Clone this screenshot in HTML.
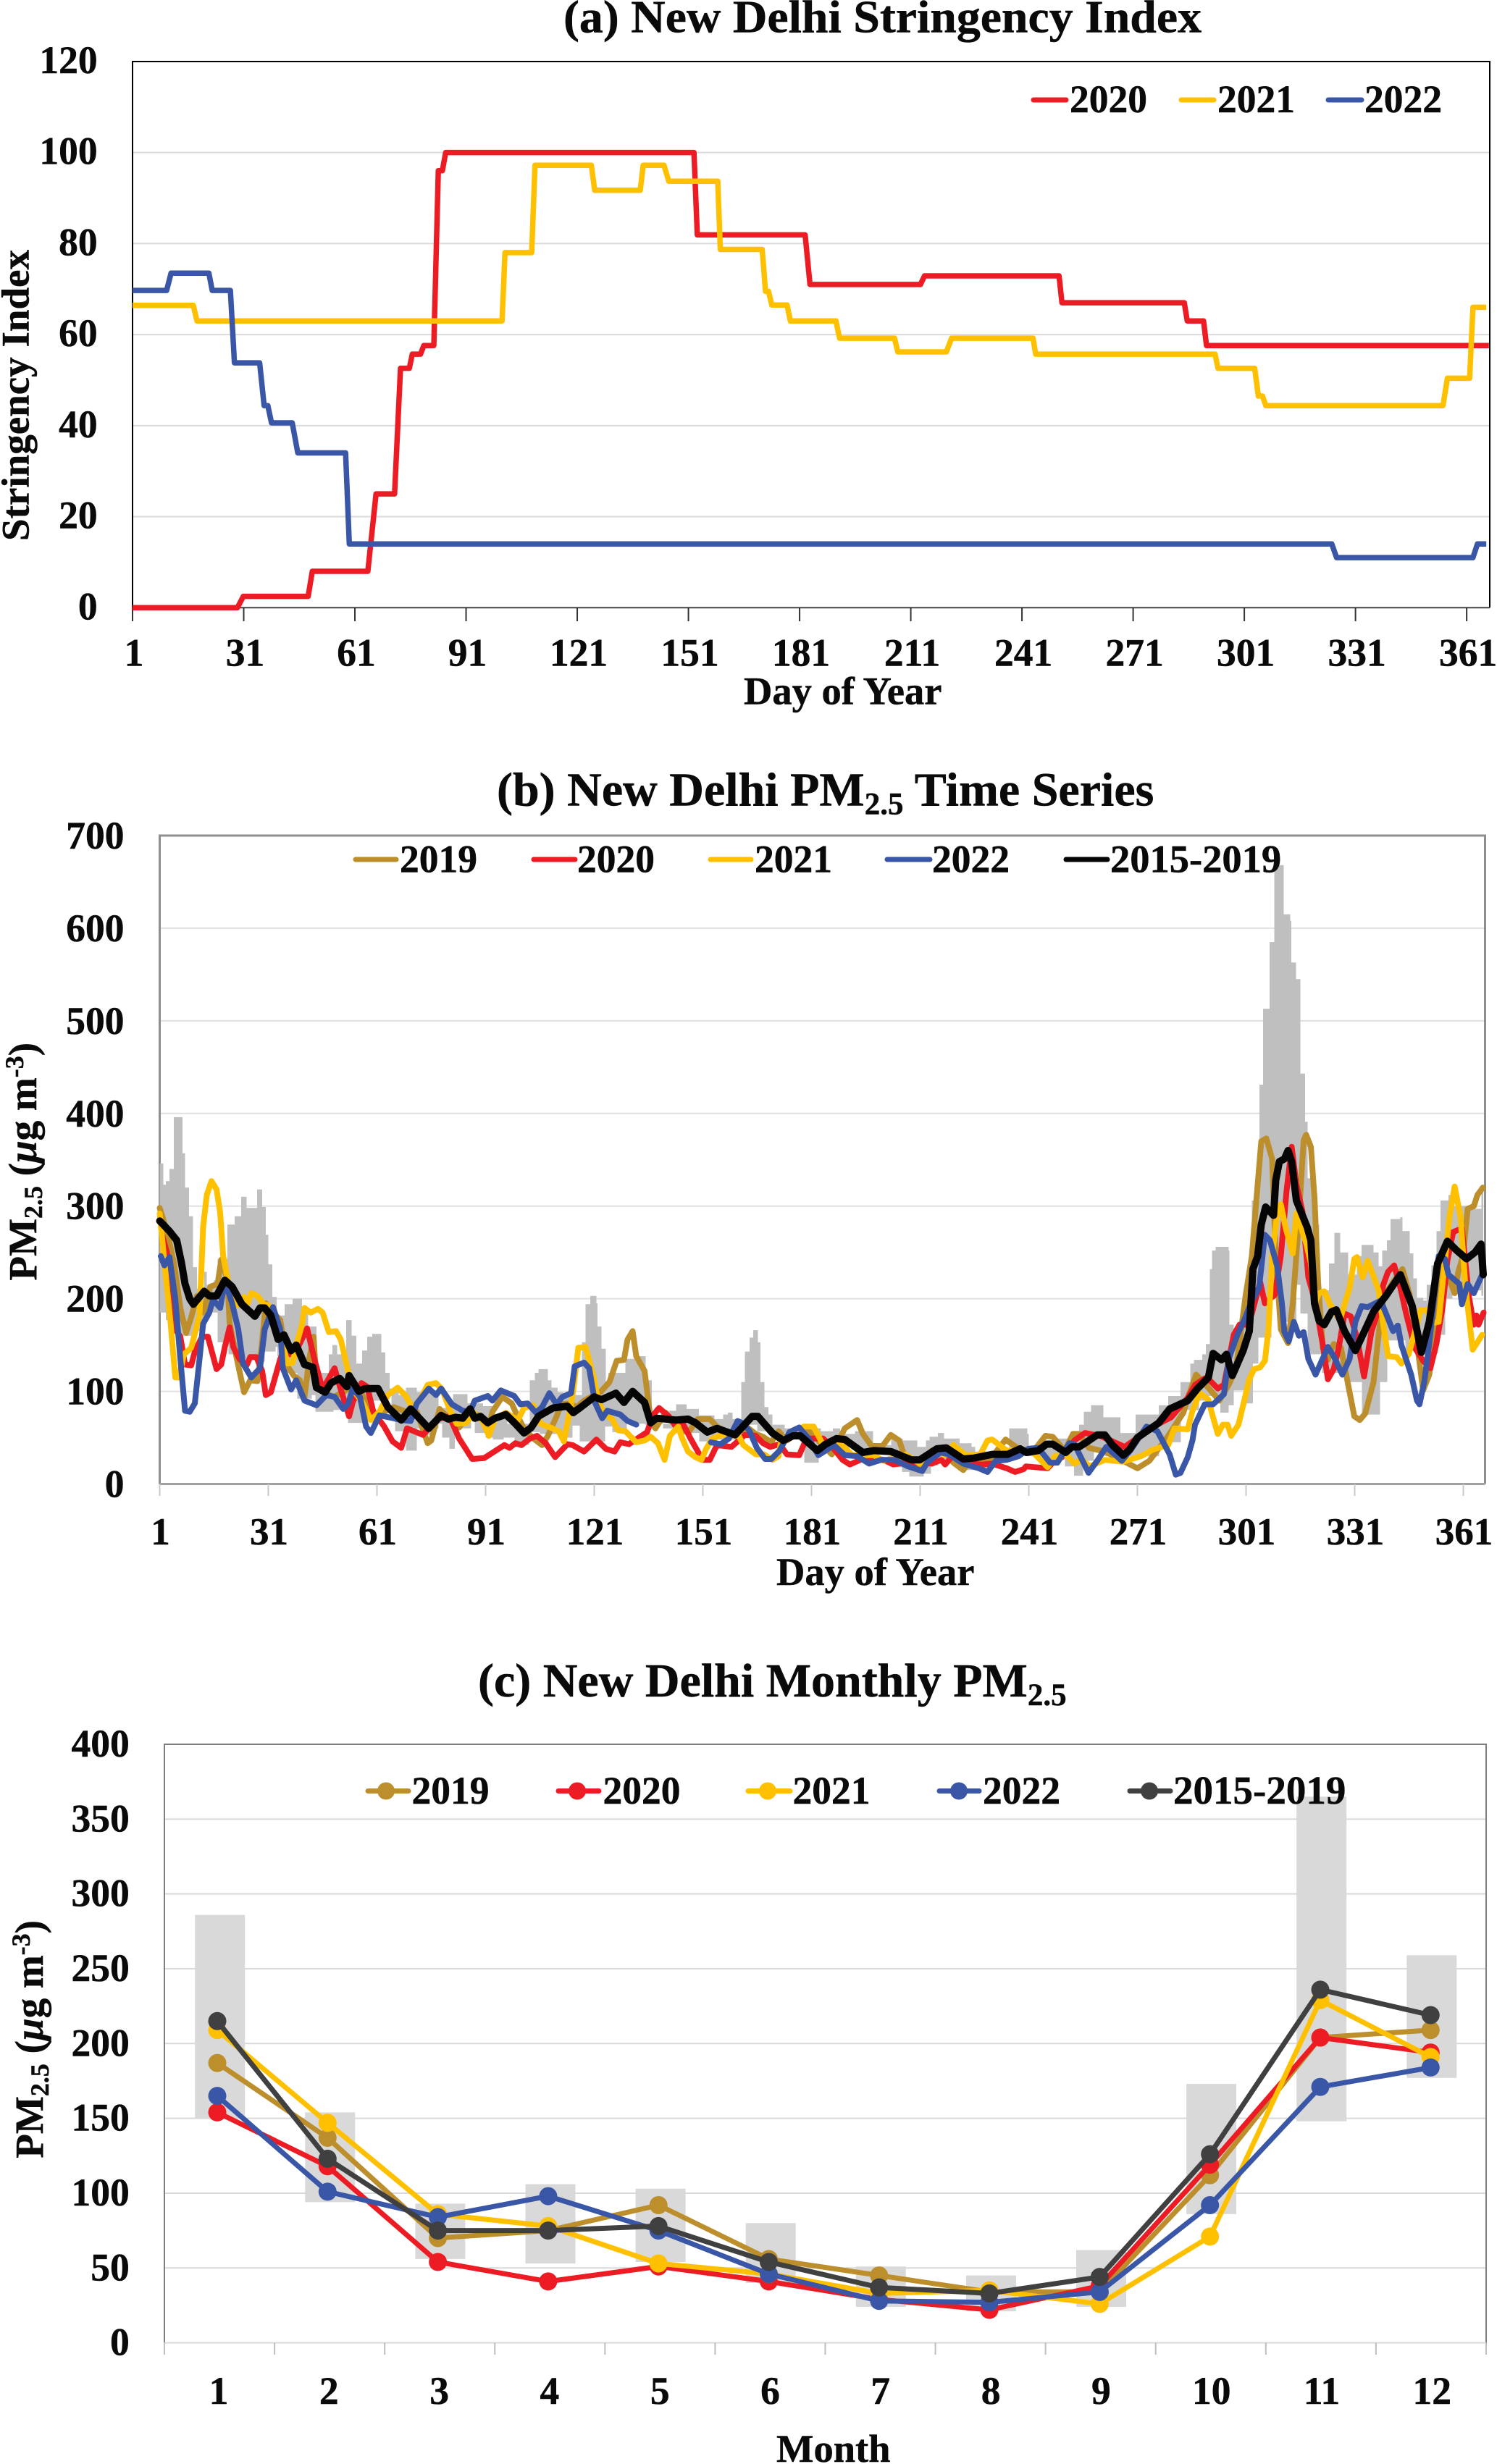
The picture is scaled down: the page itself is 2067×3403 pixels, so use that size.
<!DOCTYPE html>
<html lang="en">
<head>
<meta charset="utf-8">
<title>New Delhi Stringency Index and PM2.5</title>
<style>
html,body{margin:0;padding:0;background:#fff;}
svg{display:block;}
text{font-family:"Liberation Serif",serif;font-weight:bold;fill:#0a0a0a;stroke:#0a0a0a;stroke-width:.5;}
</style>
</head>
<body>
<svg id="figure" xmlns="http://www.w3.org/2000/svg" width="2067" height="3403" viewBox="0 0 2067 3403">
<rect x="0" y="0" width="2067" height="3403" fill="#ffffff"/>

<g id="panel-a"></g>
<g id="panel-b"></g>
<g id="panel-c"></g>

<text x="778" y="44.5" font-size="64" textLength="881" lengthAdjust="spacingAndGlyphs">(a) New Delhi Stringency Index</text>
<text x="1027" y="972.5" font-size="54.5">Day of Year</text>
<text transform="translate(39.6,747) rotate(-90)" font-size="54" textLength="402" lengthAdjust="spacingAndGlyphs">Stringency Index</text>

<text x="686" y="1112.5" font-size="66">(b) New Delhi PM<tspan font-size="43" dy="12">2.5</tspan><tspan dy="-12"> Time Series</tspan></text>
<text x="1072" y="2189" font-size="54.5">Day of Year</text>
<text transform="translate(50,1768.5) rotate(-90)" font-size="55">PM<tspan font-size="36" dy="8">2.5</tspan><tspan dy="-8"> (</tspan><tspan font-style="italic">μ</tspan>g m<tspan font-size="36" dy="-18">-3</tspan><tspan dy="18">)</tspan></text>

<text x="660" y="2343" font-size="66">(c) New Delhi Monthly PM<tspan font-size="43" dy="12">2.5</tspan></text>
<text x="1072" y="3400" font-size="54.5">Month</text>
<text transform="translate(59,2980.6) rotate(-90)" font-size="55">PM<tspan font-size="36" dy="8">2.5</tspan><tspan dy="-8"> (</tspan><tspan font-style="italic">μ</tspan>g m<tspan font-size="36" dy="-18">-3</tspan><tspan dy="18">)</tspan></text>
</svg>

<script>
/* ---------- Panel (a) data ---------- */
const dayTicksA = [1,31,61,91,121,151,181,211,241,271,301,331,361];
const stringencyTicks = [0,20,40,60,80,100,120];
const stringencyDays2020 = [1,29.3,30.9,48.4,49.5,64.5,66.7,71.7,73.3,75.7,76.5,78.7,79.6,82.3,83.5,84.6,85.5,152.5,153.4,182.5,183.8,213.6,214.7,251,251.8,284.8,285.6,290,290.8,367];
const stringency2020 = [0,0,2.5,2.5,8,8,25,25,52.6,52.6,55.7,55.7,57.6,57.6,96,96,100,100,81.9,81.9,71,71,72.9,72.9,67,67,63,63,57.6,57.6];
const stringencyDays2021 = [1,17.4,18.4,100.7,101.5,108.7,109.6,124.8,125.7,138,138.8,144.4,145.7,158.9,159.6,170.9,171.8,172.6,173.5,177.6,178.5,190.8,191.8,206.6,207.5,220.6,222,244,244.7,293.1,293.9,303.8,304.8,305.9,306.8,354.6,355.8,361.8,362.7,366.3];
const stringency2021 = [66.4,66.4,63,63,78,78,97.2,97.2,91.7,91.7,97.2,97.2,93.7,93.7,78.7,78.7,69.5,69.5,66.5,66.5,63,63,59.2,59.2,56.2,56.2,59.2,59.2,55.7,55.7,52.6,52.6,46.5,46.5,44.4,44.4,50.4,50.4,66,66];
const stringencyDays2022 = [1,10.2,11.4,21.6,22.5,27.4,28.5,35.3,36.5,37.5,38.5,44.1,45.6,58.5,59.5,324.6,325.9,362.7,363.9,366.3];
const stringency2022 = [69.7,69.7,73.5,73.5,69.7,69.7,53.8,53.8,44.4,44.4,40.6,40.6,34,34,14,14,11,11,14,14];

/* ---------- Panel (b) data ---------- */
const dayTicksB = [1,31,61,91,121,151,181,211,241,271,301,331,361];
const pmTicks = [0,100,200,300,400,500,600,700];
const bandUpperDays = [1,2,2.7,3.7,4.9,7.3,8,9.1,10.2,11.3,13.3,14,16,17,19.7,21.7,23.5,25,27.9,29.3,30.3,31,32.1,33.3,35.5,37.7,40.3,42,44.3,47.7,48.7,50,52.5,54,55.3,56.9,58.3,59.7,62.2,63.3,64.5,67,69,72,75,78,82,86,90.3,93,97,103.2,104.6,105.6,107.5,108.2,109.2,110.9,112.5,115,117.6,118.6,119.9,121.6,121.9,123,124.2,124.9,129.6,132.9,135.2,136.9,141.6,143.6,146.5,149.9,154.2,156.6,157.9,159.2,161.6,162.6,163.9,164.9,166.2,166.9,168,169.1,170.2,173.6,183.6,186.9,188.9,193,198,203,206.2,210.2,212.6,213.6,215.9,217.6,221.9,225.2,226.2,235.6,239.2,240.6,241,247,248.9,253,254.9,256.2,258.2,261.6,266.3,268.8,270.5,276.9,279.5,282.9,285.6,286.6,288.9,289.9,291,291.6,292.6,296.2,296.4,297.6,300,302.6,304.7,305.7,307.5,308.8,311.4,313.2,313.5,314.8,316,317.3,318,320,321.2,323.9,325.4,327,329.2,331.6,332.9,336.2,337.6,338.6,339.9,340.9,343.6,344.2,346.2,347.2,348.2,349.9,350.9,352.2,353.6,354.7,356.9,358,363.2,366];
const bandUpper = [346,323,327,340,396,357,320,289,234,211,229,215,220,243,280,289,310,298,318,299,269,237,202,182,194,200,191,170,120,140,150,140,177,160,130,144,159,162,142,120,103,96,104,99,100,82,97,87,84,70,65,112,120,124,124,112,104,99,95,96,153,194,203,195,170,146,109,120,135,138,112,65,79,86,81,74,70,75,77,70,110,143,158,166,153,110,83,75,64,60,57,60,54,57,42,49,47,40,47,51,55,49,44,40,35,60,60,54,40,44,49,55,64,78,85,72,55,55,75,85,95,110,130,134,140,151,232,252,256,252,172,161,170,306,431,513,585,668,615,608,563,545,443,391,330,280,209,238,271,250,226,246,258,250,235,252,263,286,288,273,249,222,201,198,215,236,273,306,312,300,297,317];
const bandLowerDays = [1,2.7,6,10,13,14,17,20,24,28,30,33,33.5,36,39,43,44,49,53,57,60,62,65,66,69,72,75,77,78,79,81,82.5,87,88,91,93,96,99,103,106,113,115,117,122,124,126,130,135,137,140,143,150,155,161,166,170,175,179,183,188,193,198,203,204,206,208,212,214,216,222,230,235,240,245,251,253.5,256,259,262,270,277,283,288,290,293.9,296.2,297.6,300.6,302.9,304.4,308,310,314.9,316,318,322,329,333,338,340,345,351,354,356,358,366];
const bandLower = [185,177,160,165,175,185,153,140,135,132,143,148,138,120,92,96,78,80,66,80,90,95,72,57,36,60,53,60,65,50,38,60,80,55,50,48,50,42,56,54,50,63,46,46,62,56,65,64,66,60,55,46,48,64,57,55,50,23,45,40,38,35,30,18,13,8,11,20,25,15,25,35,30,28,19,9,25,38,30,30,45,80,90,95,77,85,101,87,130,158,203,175,215,184,140,120,110,75,110,155,144,141,161,200,209,203,206];

const pmDays2019 = [1,3,5,6.7,8.3,9.7,11.3,13,15,17,18,19.7,20.3,22.3,24.3,26,28,29,30.3,32.3,34.3,36.3,38,39.7,41,42.3,43.5,44.3,46.3,49,51.7,54.3,57,59.7,63,65.7,69,72,75,76,78.3,81,83.7,86.7,89.7,91.6,92.9,95.6,98.2,99.6,101.6,104.2,106.6,108.2,110.6,111.9,114.2,116.2,118.2,122.9,125.2,127.2,129.2,130.2,131.6,132.6,134.9,136.6,137.9,140.7,143,146.9,149.6,152.9,154.9,158.2,163.6,165.6,167.6,169.9,171.9,174.2,176.9,178.9,182.9,186.6,190.2,193.6,195.2,197.6,200.6,202.9,205.2,206.9,208.9,211.9,214.2,217.6,220.2,222.9,224.9,230.2,234.6,238.2,242.2,245.6,247.6,250.9,253.2,254.9,257.6,262,267,271,274.3,279.5,283.7,284.9,287.2,289.9,293.6,296.2,298.2,300.9,302.6,303.9,305.2,306.6,308.2,309.2,310.6,312.6,313.9,315.2,316.9,317.6,318.9,319.9,320.9,322.2,323.6,325.2,327.2,328.9,330.9,332.4,333.9,336.2,337.6,338.9,341.6,344.2,346.2,348.2,349.9,351.6,352.9,355.6,356.9,358.6,359.6,360.9,362.2,363.9,364.9,366.4];
const pm2019 = [298,273,237,190,163,180,203,185,213,216,242,221,174,135,99,112,111,143,195,185,177,127,117,112,94,135,159,109,99,94,99,107,96,75,78,83,78,78,44,47,81,70,61,78,73,57,78,94,87,75,60,49,42,52,73,86,87,83,90,100,110,133,134,156,165,138,122,68,60,77,65,55,70,70,62,54,60,54,51,45,57,47,54,62,47,32,60,69,54,41,41,53,47,28,21,21,36,35,23,15,26,26,48,38,35,52,51,36,54,54,39,35,25,17,25,52,77,93,118,107,90,107,124,204,246,309,370,373,351,246,167,152,195,263,371,377,364,309,218,147,134,151,147,113,73,69,76,110,161,201,218,232,204,152,101,118,155,252,223,206,229,246,297,300,312,320];

const pmDays2020 = [1.7,3,5,6.7,8,9.7,10.7,12.7,14.3,16.7,18,19,20.3,21.3,23,25,26,27.7,29.3,30.3,31.7,33,34.3,35.7,37,39,41.7,43.7,46,49.3,51,53.3,54.3,56.7,58.3,60,63,65.3,67.7,69.3,73.7,77.7,81,83.7,87.3,90.6,92.2,96.2,97.6,99.2,100.9,103.2,105.2,107.6,110.2,113.6,115,118.2,121.6,124.2,126.6,128.2,130.6,132.9,135.6,137.2,138.9,141.6,143.9,145.5,147.6,150.9,152.9,154.9,158.9,160.9,162.6,165.6,167.6,169.6,172.2,174.2,177.6,179.6,184.2,186.9,189.6,191.6,196.2,200.9,203.6,206.9,209,214.2,216.9,217.9,219.9,224.2,228.2,230.9,234.9,237.2,239.6,240.2,246.2,247.6,250.2,253.6,256.5,260.7,267.5,271.8,276.9,280.3,284.9,286.9,289.6,291.2,293.2,294.9,297.6,299.2,301,302.6,304.9,306.2,308.9,310.6,312.2,313.6,314.9,316.6,318.2,320.2,322.2,323.6,325.2,326.6,328.2,329.9,331.6,333.6,335.6,337.6,338.9,340.2,341.9,343.6,345.2,347.6,349.9,351.9,353.6,355.2,356.6,358.2,360.6,362.6,363.9,364.6,365.2,366.6];
const pm2020 = [268,250,169,159,129,128,143,159,159,124,129,148,169,148,135,128,137,137,122,96,99,117,135,148,140,146,168,135,102,125,102,73,88,109,105,78,62,46,39,60,53,70,73,49,27,28,32,42,39,44,42,49,52,44,29,43,42,35,48,38,35,45,43,49,56,74,82,73,60,65,49,26,26,42,40,47,53,52,44,40,43,32,31,49,49,39,26,21,29,26,21,23,23,22,26,21,30,22,21,22,17,13,16,19,17,23,29,47,55,52,40,52,65,72,93,107,114,111,103,107,161,172,172,184,218,195,204,246,317,364,323,294,223,195,150,113,124,147,184,181,158,116,164,189,215,229,236,212,184,147,133,125,152,189,241,272,276,201,172,182,172,185];

const pmDays2021 = [1,2.3,4,5.3,6.3,7.7,9.7,12,13,14,15.3,16.7,17.7,18.5,20,22.3,24.3,25.3,26.3,28,29.7,31,34.3,36.3,37.7,39,40.3,41,42.7,44.7,46,47.7,49.7,51,53.3,54.3,57,59.3,61.7,64,66.7,69,71,73.3,75,77.3,79,81.3,83,85.7,87.7,90.2,91.9,93.6,96.6,99.9,101.6,104.2,106.2,108.9,111.2,112.6,114.2,115.2,116.6,118.6,120.9,122.2,123.9,125.9,127.6,129.6,132.6,134.9,136.6,138.6,140.4,141.9,144.2,145.2,146.9,148.9,150.6,151.9,153.6,156.2,160.9,162.2,165.6,167.9,170.2,171.9,172.6,176.9,178.9,181.6,184.2,187.6,189.6,192.2,198.2,200.9,206.9,210.9,215.2,217.6,220.2,223.6,227.6,229.6,230.9,234.9,238.2,242.2,246.2,248.2,251.2,253.6,255.6,257.9,262,267,272,275.2,279.5,281.2,284.9,286.2,288.2,290.6,291.6,293.2,294.6,295.9,296.9,298.9,301.9,303.2,304.9,306.2,307.2,308.2,309.6,310.6,311.9,313.9,314.9,317.6,318.9,319.9,321.2,322.6,324.2,326.9,329.6,330.9,331.6,333.2,334.6,337.6,338.9,340.2,342.6,343.9,345.9,348.2,349.2,350.9,352.6,354.2,355.6,357.2,358.6,360.2,361.6,363.6,366.2];
const pm2021 = [292,240,174,115,115,140,147,182,278,312,327,318,293,247,216,193,202,195,206,203,194,193,161,130,131,154,172,190,185,189,185,164,165,156,117,102,88,69,78,96,104,95,81,94,107,109,102,78,65,66,77,68,52,70,77,69,82,85,65,61,57,46,78,101,147,148,114,88,75,70,58,57,45,47,51,44,26,52,62,50,35,29,26,38,49,53,52,42,32,32,26,30,47,57,62,62,42,43,42,31,31,25,32,22,38,31,42,31,32,47,48,36,36,34,18,30,32,22,26,19,26,24,30,37,42,60,59,79,98,91,76,54,64,64,52,64,113,124,126,133,167,246,292,302,277,249,292,260,238,195,206,208,194,177,212,243,245,223,241,209,172,138,137,130,140,172,188,188,174,175,229,289,321,289,212,145,161];

const pmDays2022 = [1.3,2.3,3.7,5.3,6.7,8,9.3,10.7,12,13,14.7,15.7,17.7,19,21,22.7,24,26.3,28.7,30,32.3,34.3,35,37.3,38.7,41,44.3,47,49.3,51.7,53,54.3,56.3,58,59.3,61.7,64.3,67.7,70.3,72,75.3,77.3,78.7,81.7,84.7,86.7,88,91.6,92.9,95.2,98.9,100.6,102.6,104.9,106.6,108.6,110.6,112.2,114.6,115.6,118.2,119.6,121.2,123.2,124.6,128.2,130.2,132.6,null,153.2,155.9,158.2,160.6,162.2,163.9,165.9,168.2,169.9,172.2,174.9,177.6,180.2,182.9,187.2,190.2,193.6,196.9,200.2,203.9,207.6,211.6,212.9,216.6,218.9,222.9,227.2,229.6,231.9,234.9,238.2,240.9,243.6,246.9,248.9,252.2,253.6,257.5,259.9,262.4,266.7,269.2,273.5,276.5,279.9,281.6,282.9,284.9,286.2,286.9,289.6,291.9,294.9,296.2,298.6,300.6,302.6,304.6,306.2,307.6,309.6,310.9,311.6,312.8,314.2,315.6,316.9,318.2,320.2,323.6,325.2,327.6,329.6,331.2,332.9,334.6,338.2,341.6,342.9,343.9,346.6,348.2,348.9,350.2,351.6,354.2,355.9,356.9,359.9,360.6,362.2,363.9,366.2];
const pm2022 = [246,236,245,200,135,79,78,87,135,173,185,199,190,219,195,167,130,115,125,167,191,167,125,102,112,90,85,96,94,81,86,103,94,62,55,74,72,69,68,87,103,96,103,86,79,78,90,95,90,101,95,86,87,77,83,98,86,94,98,127,131,125,88,71,79,75,68,64,null,45,43,49,68,65,57,39,27,27,36,56,61,49,31,42,31,30,22,26,26,19,14,23,34,32,22,17,13,25,26,30,38,39,23,23,44,43,12,25,40,25,37,62,57,32,10,12,29,47,64,86,86,97,135,161,178,198,212,269,263,235,195,164,154,175,160,164,135,118,148,138,118,135,175,192,191,198,165,171,150,118,90,86,110,152,246,243,226,216,194,216,206,226];

const pmDays2015 = [1,3.7,5.7,7,8,9.3,10.3,13.3,14.7,16.7,19,21,23.7,27.3,28.7,30,31.7,33.7,35.3,37.3,38.7,41,43.3,44.3,46.7,48.3,50.7,52.7,53.3,56,57.7,61.3,64,67.7,70.3,75.3,78.7,80.7,82.7,84.7,86.7,88,89.6,91.6,93.6,96.6,99,101.6,103.6,105.6,109.6,113.6,115.2,117,121,123,127,129.2,131.6,134.9,136.6,138.2,143.6,146.9,149,152.2,154.9,159.9,164.6,166.2,170.2,173.2,175.9,177.9,182.6,184.9,187.9,190.2,195.2,198.2,202.9,204.9,208.6,210.9,215.6,218.2,222.9,225.9,230.9,235.2,238.6,240.3,243.6,245.9,247.6,251.2,252.9,254.9,256.9,259.9,262,264.1,267.1,268.8,271,276.9,279.9,284.9,287.6,290.6,291.9,294.2,295.6,297.2,300.2,301.9,302.9,304.2,305.2,306.4,308.6,309.2,310.2,311.6,312.6,313.6,314.9,317.9,318.9,319.9,321.2,322.6,324.6,325.9,328.2,331.2,334.2,336.2,339.6,343.6,346.9,349.4,351.6,353.9,356.6,359.2,361.9,364.2,365.9,366.5];
const pm2015 = [284,273,263,239,216,200,194,208,203,203,220,213,194,181,190,190,182,156,161,144,150,129,126,104,99,109,114,105,117,100,103,103,83,69,81,60,74,70,72,71,81,71,73,66,71,75,66,55,61,73,82,84,77,82,94,91,98,88,100,88,66,71,69,70,66,56,60,53,73,73,55,47,52,52,36,43,49,48,34,36,35,32,26,26,38,39,27,28,32,32,38,34,36,43,43,34,40,40,45,53,53,42,31,37,50,66,81,90,103,115,141,134,140,117,144,165,232,246,280,299,290,328,348,351,360,348,306,277,263,195,176,172,186,188,165,144,169,186,203,226,192,142,175,238,262,252,243,250,259,226];

/* ---------- Panel (c) data ---------- */
const months = [1,2,3,4,5,6,7,8,9,10,11,12];
const monthlyTicks = [0,50,100,150,200,250,300,350,400];
const monthlyBandLow = [150,94,56,53,54,40,24,21,24,86,148,177];
const monthlyBandHigh = [286,154,93,106,103,80,51,45,62,173,365,259];
const monthly2019 = [187,137,70,75,92,56,45,34,34,112,204,209];
const monthly2020 = [154,118,54,41,51,41,29,22,38,119,204,194];
const monthly2021 = [209,147,86,78,53,46,33,35,26,71,229,191];
const monthly2022 = [165,101,84,98,75,46,28,27,34,92,171,184];
const monthly2015 = [215,123,75,75,78,54,37,33,44,126,236,219];

/* ---------- Colours ---------- */
const colorBrown = '#BC8F2C';
const colorRed = '#ED1C24';
const colorYellow = '#FFC000';
const colorBlue = '#3A56A6';
const colorBlack = '#050505';
const colorDark = '#404040';

/* ---------- Helpers ---------- */
const NS = 'http://www.w3.org/2000/svg';
function make(tag, attrs, parent) {
  const node = document.createElementNS(NS, tag);
  for (const k in attrs) node.setAttribute(k, attrs[k]);
  parent.appendChild(node);
  return node;
}

function seriesPath(days, vals, xFn, yFn) {
  let d = '';
  let pen = false;
  for (let i = 0; i < days.length; i++) {
    if (days[i] === null || vals[i] === null) { pen = false; continue; }
    d += (pen ? 'L' : 'M') + xFn(days[i]).toFixed(1) + ' ' + yFn(vals[i]).toFixed(1);
    pen = true;
  }
  return d;
}

function drawFrame(parent, box, gridVals, yFn, gridColor, borderColor, borderWidth, bottomColor) {
  gridVals.forEach(function (v) {
    if (v === gridVals[0] || v === gridVals[gridVals.length - 1]) return;
    const g = make('line', {x1: box.l, x2: box.r, y1: yFn(v), y2: yFn(v), stroke: gridColor, 'stroke-width': 2}, parent);
    
    
  });
  const frame = make('path', {d: 'M' + box.l + ' ' + box.b + 'V' + box.t + 'H' + box.r + 'V' + box.b, fill: 'none', stroke: borderColor, 'stroke-width': borderWidth}, parent);
  
  
  const base = make('line', {x1: box.l, x2: box.r, y1: box.b, y2: box.b, stroke: bottomColor, 'stroke-width': borderWidth}, parent);
  
  
}

function drawYLabels(parent, ticks, yFn, rightX, shift) {
  ticks.forEach(function (v) {
    const t = make('text', {x: rightX, y: yFn(v) + shift, 'font-size': 53.5, 'text-anchor': 'end'}, parent);
    t.textContent = String(v);
    
    
  });
}

function drawLegendEntry(parent, x1, x2, lineY, textX, baseY, label, color, size, markerX) {
  const l = make('line', {x1: x1, x2: x2, y1: lineY, y2: lineY, stroke: color, 'stroke-width': 7, 'stroke-linecap': 'round'}, parent);
  
  
  if (markerX) {
    const c = make('circle', {cx: markerX, cy: lineY, r: 12, fill: color}, parent);
    
    
  }
  const t = make('text', {x: textX, y: baseY, 'font-size': size}, parent);
  t.textContent = label;
  
  
}

/* ---------- Panel (a) ---------- */
(function () {
  const p = document.getElementById('panel-a');
  const box = {l: 183, r: 2057, t: 85, b: 839.3};
  const x = function (d) { return 183 + (d - 1) * 5.117; };
  const y = function (v) { return 839.3 - v * 6.287; };
  drawFrame(p, box, stringencyTicks, y, '#DADADA', '#000000', 2, '#444444');
  dayTicksA.forEach(function (d) {
    const t = make('line', {x1: x(d), x2: x(d), y1: 839.3, y2: 858, stroke: '#333333', 'stroke-width': 2}, p);
    
    
    const lab = make('text', {x: x(d) + 2, y: 919.5, 'font-size': 53.5, 'text-anchor': 'middle'}, p);
    lab.textContent = String(d);
    
    
  });
  drawYLabels(p, stringencyTicks, y, 134.6, 16);
  const list = [
    ['2020', stringencyDays2020, stringency2020, colorRed],
    ['2021', stringencyDays2021, stringency2021, colorYellow],
    ['2022', stringencyDays2022, stringency2022, colorBlue]
  ];
  list.forEach(function (s) {
    const line = make('path', {d: seriesPath(s[1], s[2], x, y), fill: 'none', stroke: s[3], 'stroke-width': 7.5, 'stroke-linejoin': 'round', 'stroke-linecap': 'butt'}, p);
    
    
  });
  drawLegendEntry(p, 1427, 1472, 138, 1477, 155, '2020', colorRed, 53.5);
  drawLegendEntry(p, 1631, 1676, 138, 1681, 155, '2021', colorYellow, 53.5);
  drawLegendEntry(p, 1834, 1880, 138, 1884, 155, '2022', colorBlue, 53.5);
})();

/* ---------- Panel (b) ---------- */
(function () {
  const p = document.getElementById('panel-b');
  const box = {l: 220.5, r: 2050.5, t: 1154, b: 2049.5};
  const x = function (d) { return 220.5 + (d - 1) * 5; };
  const y = function (v) { return 2049.5 - v * 1.2793; };
  drawFrame(p, box, pmTicks, y, '#E0E0E0', '#8E8E8E', 3, '#A0A0A0');
  dayTicksB.forEach(function (d) {
    const t = make('line', {x1: x(d), x2: x(d), y1: 2049.5, y2: 2066, stroke: '#C8C8C8', 'stroke-width': 2}, p);
    
    
    const lab = make('text', {x: x(d) + 1, y: 2133, 'font-size': 53, 'text-anchor': 'middle'}, p);
    lab.textContent = String(d);
    
    
  });
  drawYLabels(p, pmTicks, y, 171.5, 18);

  let bandD = 'M' + x(bandUpperDays[0]).toFixed(1) + ' ' + y(bandUpper[0]).toFixed(1);
  for (let i = 1; i < bandUpperDays.length; i++) {
    bandD += 'H' + x(bandUpperDays[i]).toFixed(1) + 'V' + y(bandUpper[i]).toFixed(1);
  }
  bandD += 'H' + x(366.5).toFixed(1);
  const last = bandLowerDays.length - 1;
  bandD += 'V' + y(bandLower[last]).toFixed(1);
  for (let j = last; j > 0; j--) {
    bandD += 'H' + x(bandLowerDays[j]).toFixed(1) + 'V' + y(bandLower[j - 1]).toFixed(1);
  }
  bandD += 'H' + x(bandLowerDays[0]).toFixed(1) + 'Z';
  const band = make('path', {d: bandD, fill: '#BFBFBF', stroke: 'none'}, p);
  
  

  const list = [
    ['2019', pmDays2019, pm2019, colorBrown, 8],
    ['2020', pmDays2020, pm2020, colorRed, 8],
    ['2021', pmDays2021, pm2021, colorYellow, 8],
    ['2022', pmDays2022, pm2022, colorBlue, 8],
    ['2015-2019', pmDays2015, pm2015, colorBlack, 10]
  ];
  list.forEach(function (s) {
    const line = make('path', {d: seriesPath(s[1], s[2], x, y), fill: 'none', stroke: s[3], 'stroke-width': s[4], 'stroke-linejoin': 'round', 'stroke-linecap': 'round'}, p);
    
    
  });
  drawLegendEntry(p, 491, 547, 1187, 552, 1204.5, '2019', colorBrown, 53.5);
  drawLegendEntry(p, 737, 794, 1187, 797, 1204.5, '2020', colorRed, 53.5);
  drawLegendEntry(p, 981, 1037, 1187, 1042, 1204.5, '2021', colorYellow, 53.5);
  drawLegendEntry(p, 1225, 1284, 1187, 1287, 1204.5, '2022', colorBlue, 53.5);
  drawLegendEntry(p, 1472, 1529, 1187, 1533, 1204.5, '2015-2019', colorBlack, 54.5);
})();

/* ---------- Panel (c) ---------- */
(function () {
  const p = document.getElementById('panel-c');
  const box = {l: 227, r: 2052, t: 2409, b: 3235.6};
  const xPoint = function (m) { return 300 + (m - 1) * 152.3; };
  const xBar = function (m) { return 303.7 + (m - 1) * 152.1; };
  const y = function (v) { return 3235.6 - v * 2.0665; };
  drawFrame(p, box, monthlyTicks, y, '#D9D9D9', '#7F7F7F', 2, '#D9D9D9');
  for (let k = 0; k <= months.length; k++) {
    const tx = 227 + k * 152.08;
    const t = make('line', {x1: tx, x2: tx, y1: 3235.6, y2: 3252, stroke: '#BFBFBF', 'stroke-width': 2}, p);
    
    
  }
  months.forEach(function (m, i) {
    const bar = make('rect', {x: xBar(m) - 34.5, width: 69, y: y(monthlyBandHigh[i]), height: y(monthlyBandLow[i]) - y(monthlyBandHigh[i]), fill: '#D9D9D9'}, p);
    
    
    const lab = make('text', {x: xPoint(m) + 2, y: 3320, 'font-size': 53.5, 'text-anchor': 'middle'}, p);
    lab.textContent = String(m);
    
    
  });
  drawYLabels(p, monthlyTicks, y, 178.8, 17);
  const list = [
    ['2019', monthly2019, colorBrown],
    ['2020', monthly2020, colorRed],
    ['2021', monthly2021, colorYellow],
    ['2022', monthly2022, colorBlue],
    ['2015-2019', monthly2015, colorDark]
  ];
  list.forEach(function (s) {
    const line = make('path', {d: seriesPath(months, s[1], xPoint, y), fill: 'none', stroke: s[2], 'stroke-width': 7, 'stroke-linejoin': 'round'}, p);
    
    
    months.forEach(function (m, i) {
      const dot = make('circle', {cx: xPoint(m), cy: y(s[1][i]), r: 12.5, fill: s[2]}, p);
      
      
    });
  });
  drawLegendEntry(p, 508, 564, 2473.5, 568.5, 2491, '2019', colorBrown, 53.5, 533);
  drawLegendEntry(p, 771, 827, 2473.5, 832.5, 2491, '2020', colorRed, 53.5, 797);
  drawLegendEntry(p, 1033, 1091, 2473.5, 1094.5, 2491, '2021', colorYellow, 53.5, 1060);
  drawLegendEntry(p, 1297, 1352, 2473.5, 1357, 2491, '2022', colorBlue, 53.5, 1324);
  drawLegendEntry(p, 1560, 1616, 2473.5, 1620, 2491, '2015-2019', colorDark, 55, 1587);
})();
</script>
</body>
</html>
